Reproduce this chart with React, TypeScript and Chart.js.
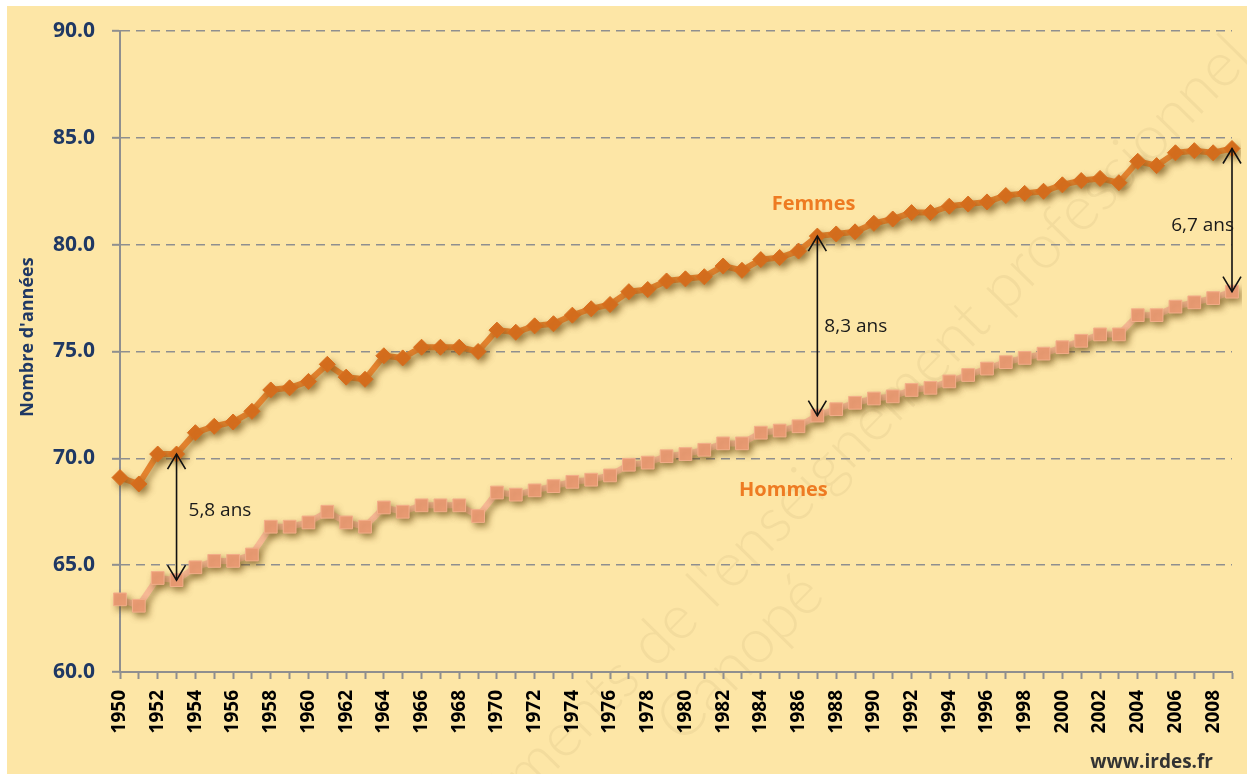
import React, { useEffect, useRef } from 'react';
import { Chart, registerables } from 'chart.js';

Chart.register(...registerables);

const years = [
  '1950', '1951', '1952', '1953', '1954', '1955', '1956', '1957', '1958', '1959',
  '1960', '1961', '1962', '1963', '1964', '1965', '1966', '1967', '1968', '1969',
  '1970', '1971', '1972', '1973', '1974', '1975', '1976', '1977', '1978', '1979',
  '1980', '1981', '1982', '1983', '1984', '1985', '1986', '1987', '1988', '1989',
  '1990', '1991', '1992', '1993', '1994', '1995', '1996', '1997', '1998', '1999',
  '2000', '2001', '2002', '2003', '2004', '2005', '2006', '2007', '2008', '2009',
];

const femmes = [
  69.1, 68.8, 70.2, 70.2, 71.2, 71.5, 71.7, 72.2, 73.2, 73.3,
  73.6, 74.4, 73.8, 73.7, 74.8, 74.7, 75.2, 75.2, 75.2, 75.0,
  76.0, 75.9, 76.2, 76.3, 76.7, 77.0, 77.2, 77.8, 77.9, 78.3,
  78.4, 78.5, 79.0, 78.8, 79.3, 79.4, 79.7, 80.4, 80.5, 80.6,
  81.0, 81.2, 81.5, 81.5, 81.8, 81.9, 82.0, 82.3, 82.4, 82.5,
  82.8, 83.0, 83.1, 82.9, 83.9, 83.7, 84.3, 84.4, 84.3, 84.5,
];

const hommes = [
  63.4, 63.1, 64.4, 64.3, 64.9, 65.2, 65.2, 65.5, 66.8, 66.8,
  67.0, 67.5, 67.0, 66.8, 67.7, 67.5, 67.8, 67.8, 67.8, 67.3,
  68.4, 68.3, 68.5, 68.7, 68.9, 69.0, 69.2, 69.7, 69.8, 70.1,
  70.2, 70.4, 70.7, 70.7, 71.2, 71.3, 71.5, 72.0, 72.3, 72.6,
  72.8, 72.9, 73.2, 73.3, 73.6, 73.9, 74.2, 74.5, 74.7, 74.9,
  75.2, 75.5, 75.8, 75.8, 76.7, 76.7, 77.1, 77.3, 77.5, 77.8,
];

const yTicks = [60, 65, 70, 75, 80, 85, 90];
const seriesNames = ['Femmes', 'Hommes'];
const gapYears = ['1953', '1987', '2009'];
const gapLabels = ['5,8 ans', '8,3 ans', '6,7 ans'];
const axisTitle = "Nombre d'années";
const sourceText = 'www.irdes.fr';
const watermarkLines = ["Éléments de l'enseignement professionnel", 'Canopé'];

const FONT = "'Open Sans', 'Noto Sans', sans-serif";
const AXIS_GRAY = '#8F8F8F';
const NAVY = '#1F3864';

function drawArrowHead(ctx: CanvasRenderingContext2D, x: number, y: number, dir: number) {
  ctx.beginPath();
  ctx.moveTo(x - 9, y + dir * 15);
  ctx.lineTo(x, y);
  ctx.lineTo(x + 9, y + dir * 15);
  ctx.stroke();
}

export default function App() {
  const ref = useRef<HTMLCanvasElement>(null);

  useEffect(() => {
    const canvas = ref.current;
    if (!canvas) return;

    const bgPlugin = {
      id: 'bg',
      beforeDraw(chart: any) {
        const { ctx, width, height } = chart;
        ctx.save();
        ctx.fillStyle = '#FDE6A6';
        ctx.fillRect(0, 0, width, height);
        // faint diagonal watermark
        ctx.translate(648, 664);
        ctx.rotate((-45.5 * Math.PI) / 180);
        ctx.font = `300 62px Lato, ${FONT}`;
        ctx.fillStyle = 'rgba(170,150,100,0.12)';
        ctx.textBaseline = 'alphabetic';
        ctx.textAlign = 'left';
        const l1 = watermarkLines[0];
        const idx = l1.indexOf('de ');
        const pre = ctx.measureText(l1.slice(0, idx)).width;
        ctx.fillText(l1, -pre, 0);
        ctx.fillText(watermarkLines[1], -35, 72);
        ctx.restore();
      },
    };

    const shadowPlugin = {
      id: 'shadow',
      beforeDatasetsDraw(chart: any) {
        const ctx = chart.ctx;
        ctx.save();
        ctx.shadowColor = 'rgba(110,75,20,0.5)';
        ctx.shadowBlur = 6;
        ctx.shadowOffsetX = 3;
        ctx.shadowOffsetY = 4;
      },
      afterDatasetsDraw(chart: any) {
        chart.ctx.restore();
      },
    };

    const annotPlugin = {
      id: 'annot',
      afterDatasetsDraw(chart: any) {
        const { ctx, scales } = chart;
        const x = scales.x;
        const y = scales.y;
        ctx.save();
        ctx.strokeStyle = '#111';
        ctx.lineWidth = 1.6;
        ctx.fillStyle = '#1a1a1a';
        ctx.font = `400 19px ${FONT}`;
        ctx.textBaseline = 'middle';
        const align = ['left', 'left', 'right'];
        const dx = [12, 7, 2];
        const dy = [-6, 1, 5];
        gapYears.forEach((yr, k) => {
          const i = years.indexOf(yr);
          const px = x.getPixelForValue(i);
          const yTop = y.getPixelForValue(femmes[i]);
          const yBot = y.getPixelForValue(hommes[i]);
          ctx.beginPath();
          ctx.moveTo(px, yTop);
          ctx.lineTo(px, yBot);
          ctx.stroke();
          drawArrowHead(ctx, px, yTop, 1);
          drawArrowHead(ctx, px, yBot, -1);
          ctx.textAlign = align[k];
          ctx.fillText(gapLabels[k], px + dx[k], (yTop + yBot) / 2 + dy[k]);
        });
        ctx.font = `700 20px ${FONT}`;
        ctx.fillStyle = '#EE7B22';
        ctx.textAlign = 'center';
        ctx.fillText(seriesNames[0], x.getPixelForValue(36.8), y.getPixelForValue(81.9));
        ctx.fillText(seriesNames[1], x.getPixelForValue(35.2), y.getPixelForValue(68.5));
        ctx.restore();
      },
      afterDraw(chart: any) {
        const { ctx } = chart;
        ctx.save();
        ctx.translate(21, 331);
        ctx.rotate(-Math.PI / 2);
        ctx.font = `700 18px ${FONT}`;
        ctx.fillStyle = NAVY;
        ctx.textAlign = 'center';
        ctx.textBaseline = 'middle';
        ctx.fillText(axisTitle, 0, 0);
        ctx.restore();
        ctx.save();
        ctx.font = `700 19px ${FONT}`;
        ctx.fillStyle = '#333333';
        ctx.textAlign = 'right';
        ctx.textBaseline = 'alphabetic';
        ctx.fillText(sourceText, 1206, 762);
        ctx.restore();
      },
    };

    const chart = new Chart(canvas, {
      type: 'line',
      data: {
        labels: years,
        datasets: [
          {
            label: seriesNames[1],
            data: hommes,
            borderColor: '#F6B894',
            borderWidth: 6,
            pointStyle: 'rect',
            pointRadius: 9,
            pointBackgroundColor: '#EE9E77',
            pointBorderColor: '#F3AE8A',
            pointBorderWidth: 1,
            tension: 0,
          },
          {
            label: seriesNames[0],
            data: femmes,
            borderColor: '#E3832F',
            borderWidth: 6,
            pointStyle: 'rectRot',
            pointRadius: 8,
            pointBackgroundColor: '#D96F1E',
            pointBorderColor: '#D96F1E',
            pointBorderWidth: 1,
            tension: 0,
          },
        ],
      },
      options: {
        animation: false,
        responsive: false,
        devicePixelRatio: 1,
        layout: { padding: { top: 25, right: 15, left: 0, bottom: 0 } },
        plugins: {
          legend: { display: false },
          tooltip: { enabled: false },
          title: { display: false },
        },
        scales: {
          x: {
            type: 'category',
            offset: false,
            grid: {
              display: true,
              drawOnChartArea: false,
              drawTicks: true,
              tickLength: 7,
              tickColor: AXIS_GRAY,
              tickWidth: 2,
            },
            border: { display: true, color: AXIS_GRAY, width: 2 },
            ticks: {
              autoSkip: false,
              maxRotation: 90,
              minRotation: 90,
              padding: 11,
              color: '#000000',
              font: { family: FONT, weight: 'bold', size: 19 },
              callback: (_v: any, i: number) => (i % 2 === 0 ? years[i] : ''),
            },
            afterFit: (s: any) => {
              s.height = 102;
              s.paddingLeft = 0;
              s.paddingRight = 0;
            },
          },
          y: {
            min: 60,
            max: 90,
            afterBuildTicks: (s: any) => {
              s.ticks = yTicks.map((v) => ({ value: v }));
            },
            ticks: {
              padding: 17,
              color: NAVY,
              font: { family: FONT, weight: 'bold', size: 21 },
              callback: (v: any) => Number(v).toFixed(1),
            },
            grid: {
              color: AXIS_GRAY,
              lineWidth: 1.6,
              drawTicks: true,
              tickLength: 8,
              tickColor: AXIS_GRAY,
              tickWidth: 2,
            },
            border: { display: true, color: AXIS_GRAY, width: 2, dash: [9, 6] },
            afterFit: (s: any) => {
              s.width = 113;
              s.paddingTop = 0;
              s.paddingBottom = 0;
            },
          },
        },
      },
      plugins: [bgPlugin, shadowPlugin, annotPlugin],
    } as any);

    return () => {
      chart.destroy();
    };
  }, []);

  return (
    <div style={{ position: 'absolute', left: 7, top: 6, width: 1240, height: 768 }}>
      <canvas ref={ref} width={1240} height={768} style={{ display: 'block' }} />
    </div>
  );
}
